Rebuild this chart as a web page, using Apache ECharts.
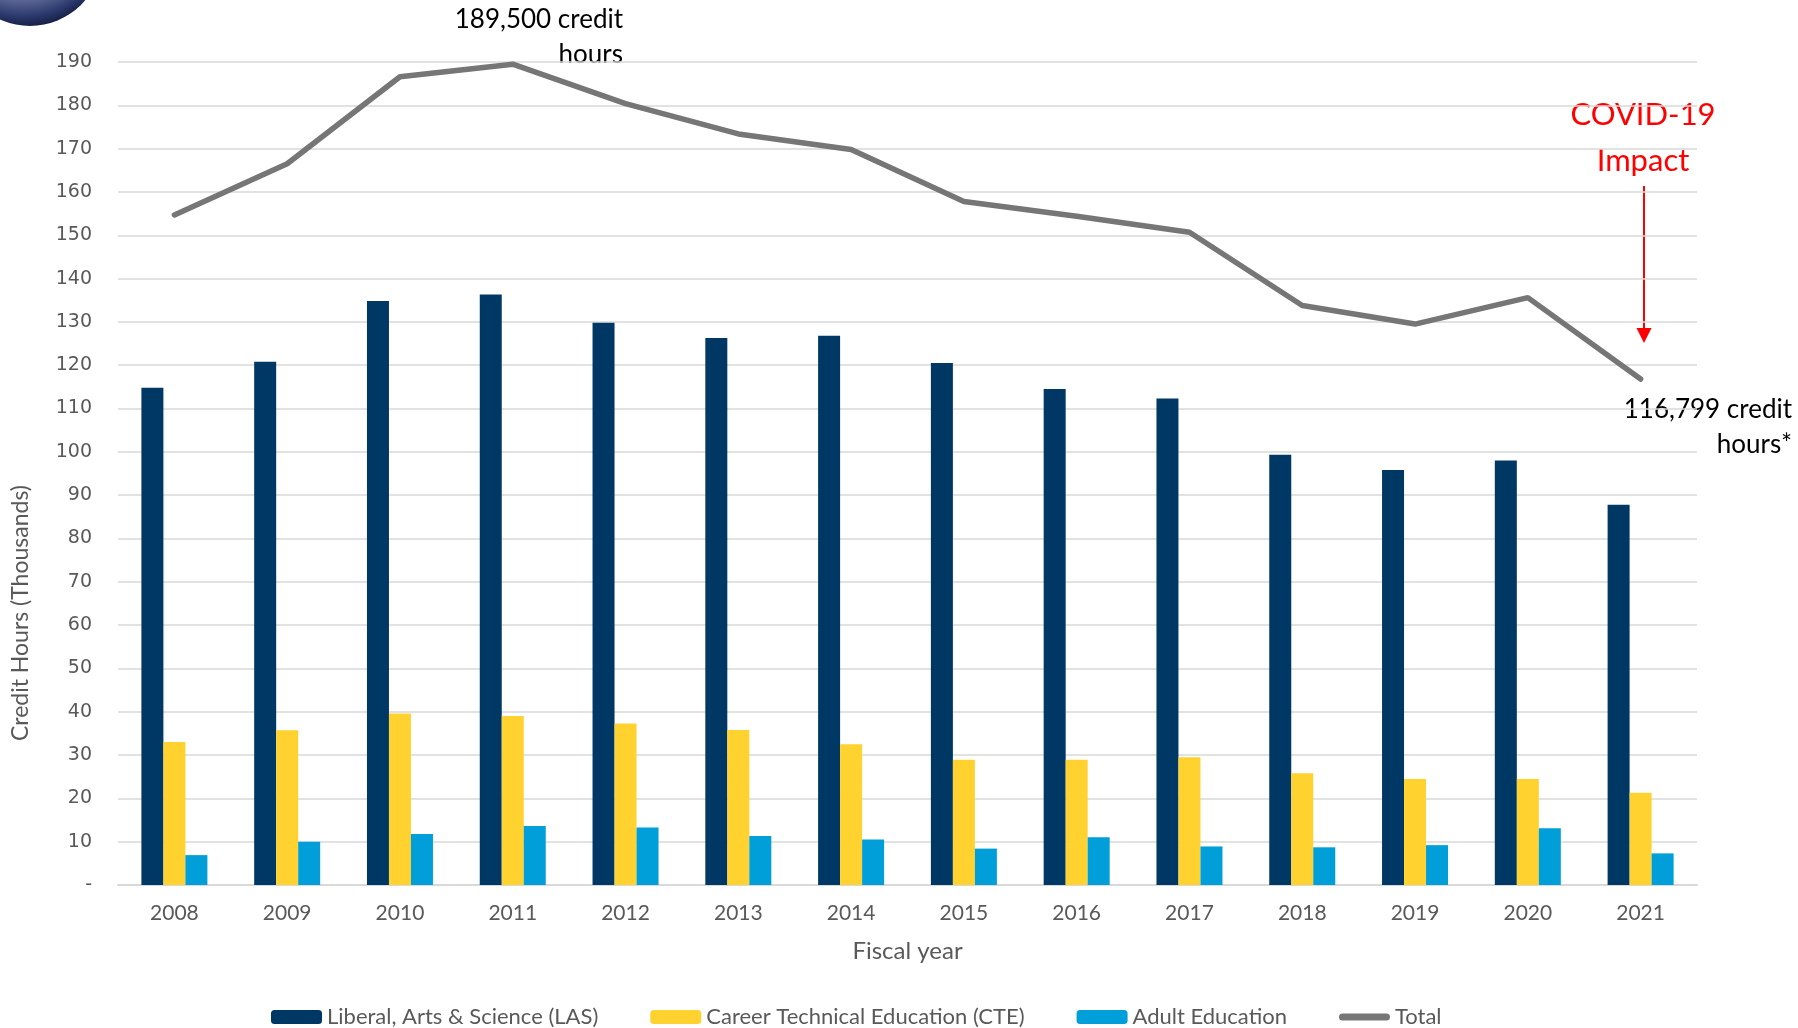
<!DOCTYPE html>
<html>
<head>
<meta charset="utf-8">
<script src="https://cdn.jsdelivr.net/npm/echarts@6/dist/echarts.min.js"></script>
<style>
html,body{margin:0;padding:0;background:#fff;}
#chart{width:1798px;height:1028px;}
</style>
</head>
<body>
<div id="chart"></div>
<script>
const years = ['2008','2009','2010','2011','2012','2013','2014','2015','2016','2017','2018','2019','2020','2021'];
const las   = [114.8,120.8,134.8,136.3,129.8,126.3,126.8,120.5,114.5,112.3,99.3,95.8,98.0,87.8];
const cte   = [33.0,35.7,39.6,39.0,37.3,35.8,32.5,28.9,28.9,29.5,25.8,24.5,24.5,21.3];
const adult = [6.9,10.0,11.8,13.6,13.3,11.3,10.5,8.4,11.0,8.9,8.7,9.2,13.1,7.3];
const total = [154.7,166.5,186.6,189.5,180.4,173.4,169.8,157.8,154.4,150.7,133.8,129.5,135.6,116.8];
const yTicks = {min:0, max:190, step:10};

const chart = echarts.init(document.getElementById('chart'));
const font = 'Lato, "Open Sans", sans-serif';
chart.setOption({
  animation:false,
  backgroundColor:'#ffffff',
  grid:{left:118,right:101,top:62,bottom:143},
  legend:{
    left:266, top:1001, itemWidth:51, itemHeight:14, itemGap:52,
    textStyle:{fontFamily:font,fontSize:22,color:'#595959'},
    data:['Liberal, Arts & Science (LAS)','Career Technical Education (CTE)','Adult Education',
      {name:'Total',icon:'path://M3.5,0 L47.5,0 A3.5,3.5 0 0 1 47.5,7 L3.5,7 A3.5,3.5 0 0 1 3.5,0 Z'}]
  },
  xAxis:{
    type:'category', data:years,
    axisLine:{lineStyle:{color:'#d9d9d9',width:2}},
    axisTick:{show:false},
    axisLabel:{color:'#595959',fontFamily:font,fontSize:21,margin:18},
    name:'Fiscal year', nameLocation:'middle', nameGap:54,
    nameTextStyle:{color:'#595959',fontFamily:font,fontSize:24}
  },
  yAxis:{
    type:'value', min:yTicks.min, max:yTicks.max, interval:yTicks.step,
    axisLine:{show:false}, axisTick:{show:false},
    splitLine:{lineStyle:{color:'#d9d9d9',width:1.5}},
    axisLabel:{color:'#595959',fontFamily:'"DejaVu Sans", sans-serif',fontSize:19,margin:26,
      formatter:v=> v===0 ? '-' : String(v)}
  },
  series:[
    {name:'Liberal, Arts & Science (LAS)',type:'bar',data:las,barWidth:22,barGap:'0%',
     itemStyle:{color:'#003865'}},
    {name:'Career Technical Education (CTE)',type:'bar',data:cte,barWidth:22,barGap:'0%',
     itemStyle:{color:'#ffd22f'}},
    {name:'Adult Education',type:'bar',data:adult,barWidth:22,barGap:'0%',
     itemStyle:{color:'#009fd9'}},
    {name:'Total',type:'line',data:total,symbol:'none',z:5,
     itemStyle:{color:'#767676'},
     lineStyle:{color:'#767676',width:5.5,cap:'round'}}
  ],
  graphic:[
    {type:'circle',shape:{cx:30,cy:-46,r:72},
     style:{fill:{type:'radial',x:0.45,y:0.3,r:0.7,colorStops:[
       {offset:0,color:'#e6e8f0'},{offset:0.6,color:'#8790b4'},{offset:0.9,color:'#2c3a6e'},{offset:1,color:'#18214a'}]}}},
    {type:'text',x:623,y:2,style:{text:'189,500 credit\nhours',fontFamily:font,fontSize:26,fill:'#000',align:'right',verticalAlign:'top',lineHeight:35}},
    {type:'text',x:1643,y:92,style:{text:'COVID-19\nImpact',fontFamily:font,fontSize:31,fill:'#ff0000',align:'center',verticalAlign:'top',lineHeight:46}},
    {type:'line',shape:{x1:1644,y1:186,x2:1644,y2:330},style:{stroke:'#ff0000',lineWidth:2}},
    {type:'polygon',shape:{points:[[1636.5,328],[1651.5,328],[1644,343]]},style:{fill:'#ff0000'}},
    {type:'text',x:1792,y:392,style:{text:'116,799 credit\nhours*',fontFamily:font,fontSize:26,fill:'#000',align:'right',verticalAlign:'top',lineHeight:35}},
    {type:'text',rotation:Math.PI/2,x:21,y:613,
     style:{text:'Credit Hours (Thousands)',fontFamily:font,fontSize:23,fill:'#595959',align:'center',verticalAlign:'middle'}}
  ]
});
</script>
</body>
</html>
